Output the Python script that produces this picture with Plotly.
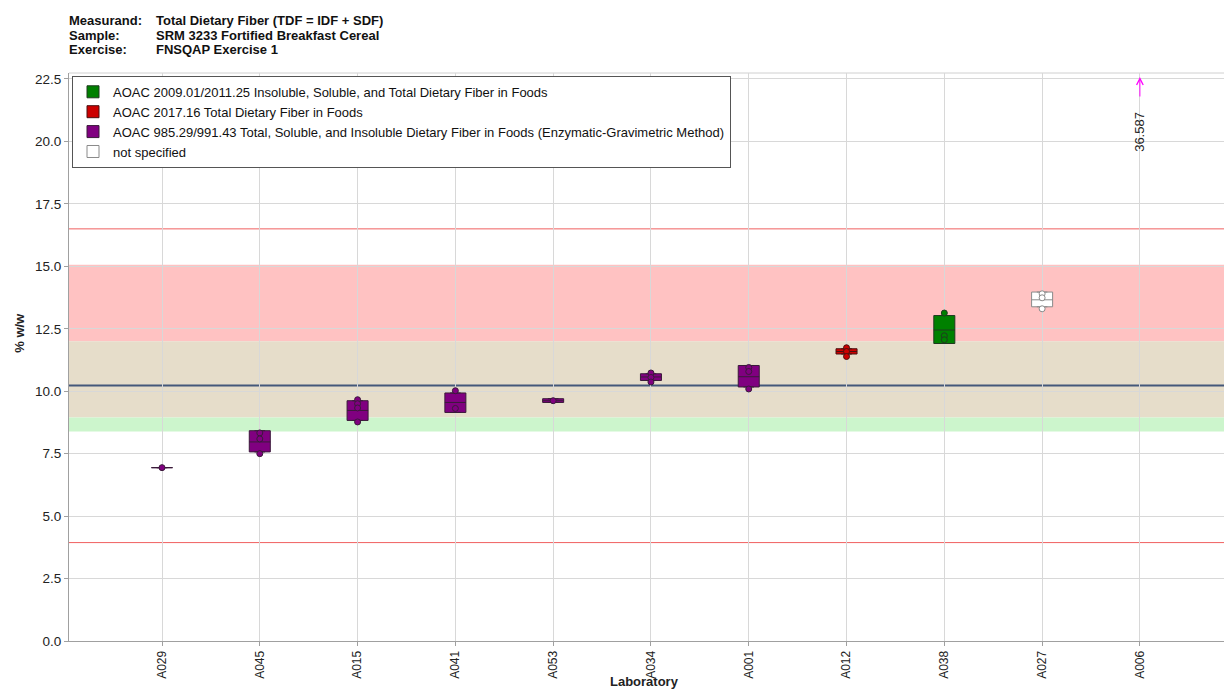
import plotly.graph_objects as go

# ---- data -------------------------------------------------------------
labs = ["A029", "A045", "A015", "A041", "A053", "A034",
        "A001", "A012", "A038", "A027", "A006"]

methods = [
    "AOAC 2009.01/2011.25 Insoluble, Soluble, and Total Dietary Fiber in Foods",
    "AOAC 2017.16 Total Dietary Fiber in Foods",
    "AOAC 985.29/991.43 Total, Soluble, and Insoluble Dietary Fiber in Foods (Enzymatic-Gravimetric Method)",
    "not specified",
]
method_fill = ["#008000", "#CC0000", "#800080", "#FFFFFF"]
method_edge = ["#1f3a1f", "#4a1010", "#3a1a3a", "#8a8a8a"]

# box summaries per lab (lab, method index, q1, median, q3)
box_lab    = ["A029", "A045", "A015", "A041", "A053", "A034", "A001", "A012", "A038", "A027"]
box_method = [2, 2, 2, 2, 2, 2, 2, 1, 0, 3]
box_q1     = [6.94, 7.57, 8.83, 9.15, 9.55, 10.43, 10.17, 11.49, 11.91, 13.38]
box_median = [6.94, 7.97, 9.23, 9.55, 9.62, 10.57, 10.58, 11.59, 12.45, 13.66]
box_q3     = [6.94, 8.42, 9.62, 9.93, 9.70, 10.70, 11.03, 11.70, 13.03, 13.97]

# individual replicate results
pt_lab = ["A029",
          "A045", "A045", "A045",
          "A015", "A015", "A015", "A015",
          "A041", "A041",
          "A053",
          "A034", "A034", "A034",
          "A001", "A001", "A001",
          "A012", "A012", "A012",
          "A038", "A038", "A038",
          "A027", "A027", "A027"]
pt_value = [6.94,
            8.33, 8.09, 7.50,
            9.66, 9.50, 9.33, 8.77,
            10.02, 9.31,
            9.62,
            10.73, 10.55, 10.37,
            10.95, 10.79, 10.09,
            11.74, 11.59, 11.39,
            13.13, 12.22, 12.06,
            13.90, 13.74, 13.30]
pt_method = [2,
             2, 2, 2,
             2, 2, 2, 2,
             2, 2,
             2,
             2, 2, 2,
             2, 2, 2,
             1, 1, 1,
             0, 0, 0,
             3, 3, 3]

# result outside the displayed range
off_lab = "A006"
off_value = 36.587

# reference lines and bands (% w/w)
consensus = 10.23
limit_low, limit_high = 3.94, 16.5
band_pink = (12.0, 15.06)
band_tan = (8.95, 12.0)
band_green = (8.39, 8.95)

y_max = 22.74
y_ticks = [0.0, 2.5, 5.0, 7.5, 10.0, 12.5, 15.0, 17.5, 20.0, 22.5]

header_keys = ["Measurand:", "Sample:", "Exercise:"]
header_vals = ["Total Dietary Fiber (TDF = IDF + SDF)",
               "SRM 3233 Fortified Breakfast Cereal",
               "FNSQAP Exercise 1"]

FONT = "Arial, Liberation Sans, sans-serif"
NARROW = "Liberation Sans Narrow, Arial Narrow, Liberation Sans, sans-serif"

# ---- figure -----------------------------------------------------------
fig = go.Figure()

for m, name in enumerate(methods):
    idx = [i for i, bm in enumerate(box_method) if bm == m]
    fig.add_trace(go.Box(
        x=[box_lab[i] for i in idx],
        q1=[box_q1[i] for i in idx],
        median=[box_median[i] for i in idx],
        q3=[box_q3[i] for i in idx],
        lowerfence=[box_q1[i] for i in idx],
        upperfence=[box_q3[i] for i in idx],
        width=0.215,
        name=name,
        fillcolor=method_fill[m],
        line=dict(color=method_edge[m], width=1),
        boxpoints=False,
        hoverinfo="skip",
    ))

for m in range(len(methods)):
    idx = [i for i, pm in enumerate(pt_method) if pm == m]
    fig.add_trace(go.Scatter(
        x=[pt_lab[i] for i in idx],
        y=[pt_value[i] for i in idx],
        mode="markers",
        marker=dict(symbol="circle", size=6, color=method_fill[m],
                    line=dict(color=method_edge[m], width=1)),
        showlegend=False,
        hoverinfo="skip",
    ))

shapes = [
    dict(type="rect", xref="paper", x0=0, x1=1, yref="y",
         y0=band_pink[0], y1=band_pink[1], fillcolor="#FFC2C2",
         line=dict(width=0), layer="below"),
    dict(type="rect", xref="paper", x0=0, x1=1, yref="y",
         y0=band_tan[0], y1=band_tan[1], fillcolor="#E6DDCA",
         line=dict(width=0), layer="below"),
    dict(type="rect", xref="paper", x0=0, x1=1, yref="y",
         y0=band_green[0], y1=band_green[1], fillcolor="#CCF5CC",
         line=dict(width=0), layer="below"),
    dict(type="line", xref="paper", x0=0, x1=1, yref="y",
         y0=limit_high, y1=limit_high, line=dict(color="#F06060", width=1),
         layer="between"),
    dict(type="line", xref="paper", x0=0, x1=1, yref="y",
         y0=limit_low, y1=limit_low, line=dict(color="#F06060", width=1),
         layer="between"),
    dict(type="line", xref="paper", x0=0, x1=1, yref="y",
         y0=consensus, y1=consensus, line=dict(color="#44587A", width=2),
         layer="between"),
    dict(type="line", xref="paper", x0=0, x1=1, yref="paper",
         y0=1, y1=1, line=dict(color="#D0D0D0", width=1), layer="below"),
]

annotations = []
# off-scale result: arrow at the top of the axis plus its value
arrow_tip = min(off_value, y_max) - 0.16
annotations.append(dict(
    x=off_lab, y=arrow_tip, xref="x", yref="y", text="",
    showarrow=True, arrowhead=5, arrowsize=1.3, arrowwidth=1,
    arrowcolor="#FF00FF", ax=0, ay=21, axref="pixel", ayref="pixel"))
annotations.append(dict(
    x=off_lab, y=20.38, xref="x", yref="y", text=f"{off_value:.3f}",
    showarrow=False, textangle=-90, font=dict(family=FONT, size=13, color="#222")))

# header block
header_y = [1.0932, 1.0668, 1.0405]
for k, v, yy in zip(header_keys, header_vals, header_y):
    annotations.append(dict(x=-0.0009, y=yy, xref="paper", yref="paper",
                            xanchor="left", yanchor="middle", showarrow=False,
                            text=f"<b>{k}</b>", borderpad=0,
                            font=dict(family=FONT, size=13, color="#111")))
    annotations.append(dict(x=0.0745, y=yy, xref="paper", yref="paper",
                            xanchor="left", yanchor="middle", showarrow=False,
                            text=f"<b>{v}</b>", borderpad=0,
                            font=dict(family=FONT, size=13, color="#111")))

# axis titles
annotations.append(dict(x=(644 - 69) / 1155, y=-0.0862, xref="paper", yref="paper",
                        xanchor="center", yanchor="bottom", showarrow=False,
                        text="<b>Laboratory</b>", borderpad=0,
                        font=dict(family=NARROW, size=13, color="#222")))
annotations.append(dict(x=-0.0424, y=0.5427, xref="paper", yref="paper",
                        xanchor="center", yanchor="middle", showarrow=False,
                        textangle=-90, text="<b>% w/w</b>",
                        font=dict(family=FONT, size=13, color="#222")))

fig.update_layout(
    width=1224, height=692,
    margin=dict(l=69, r=0, t=73, b=50.5, pad=0),
    paper_bgcolor="white", plot_bgcolor="white",
    boxmode="overlay",
    font=dict(family=FONT, size=12, color="#222"),
    shapes=shapes,
    annotations=annotations,
    showlegend=True,
    legend=dict(x=0.0026, y=0.995, xanchor="left", yanchor="top",
                bgcolor="white", bordercolor="#555", borderwidth=1,
                font=dict(family=FONT, size=13, color="#111"),
                tracegroupgap=0, itemwidth=30),
    xaxis=dict(type="category", categoryorder="array", categoryarray=labs,
               range=[-0.951, 10.86], tickangle=-90,
               showgrid=True, gridcolor="#D8D8D8", gridwidth=1,
               showline=True, linecolor="#A0A0A0", linewidth=1,
               ticks="outside", ticklen=4, tickcolor="#A0A0A0",
               tickfont=dict(family=FONT, size=12, color="#222"),
               zeroline=False, fixedrange=True),
    yaxis=dict(range=[0, y_max], tickvals=y_ticks, tickformat=".1f",
               showgrid=True, gridcolor="#D8D8D8", gridwidth=1,
               showline=True, linecolor="#A0A0A0", linewidth=1,
               ticks="outside", ticklen=4, tickcolor="#A0A0A0",
               tickfont=dict(family=FONT, size=13.5, color="#222"),
               zeroline=False, automargin=False),
)

fig.write_html("out.html")
